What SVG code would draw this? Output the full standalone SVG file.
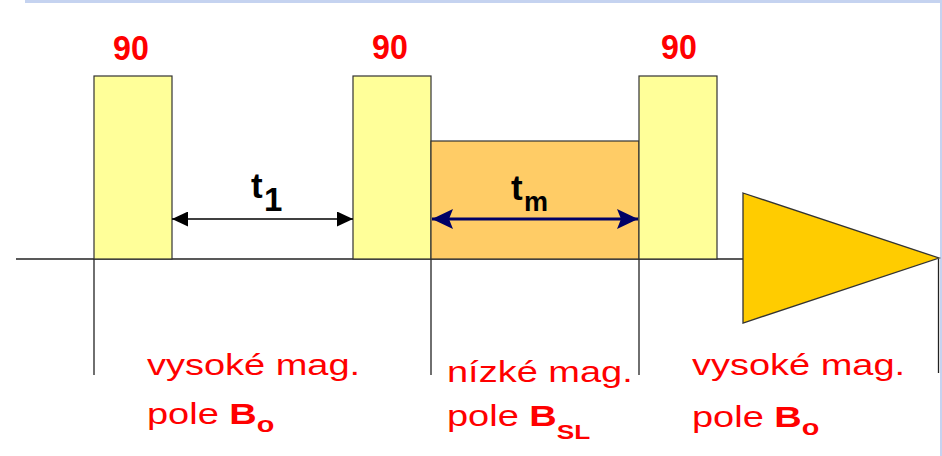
<svg xmlns="http://www.w3.org/2000/svg" width="942" height="456" viewBox="0 0 942 456">
<style>
.ln{stroke:#222;stroke-width:1.3;fill:none}
.pulse{fill:#ffff99;stroke:#333;stroke-width:1.2}
.mix{fill:#ffcc66;stroke:#333;stroke-width:1.2}
.acq{fill:#ffcc00;stroke:#333;stroke-width:1.3}
.lbl{font-family:"Liberation Sans",Arial,sans-serif;font-weight:bold;font-size:35px;fill:#ff0000}
.tt{font-family:"Liberation Sans",Arial,sans-serif;font-weight:bold;fill:#000}
.red{font-family:"Liberation Sans",Arial,sans-serif;font-size:29px;fill:#ff0000}
.b{font-weight:bold}
</style>
<defs>
<marker id="ah" markerUnits="userSpaceOnUse" markerWidth="16" markerHeight="15" refX="16" refY="7.5" orient="auto-start-reverse">
<path d="M0,0 L16,7.5 L0,15 z" fill="#000"/>
</marker>
<marker id="ahn" markerUnits="userSpaceOnUse" markerWidth="22" markerHeight="21" refX="21" refY="10.5" orient="auto-start-reverse">
<path d="M0,0.5 L21,10.5 L0,20.5 L4,10.5 z" fill="#000066"/>
</marker>
</defs>
<rect x="25" y="0" width="917" height="3" fill="#c5d3f0"/>
<rect x="940" y="0" width="2" height="456" fill="#c5d3f0"/>

<g id="connectors">
<line class="ln" x1="16" y1="259" x2="743" y2="259"/>
<line class="ln" x1="94" y1="259" x2="94" y2="375"/>
<line class="ln" x1="431" y1="259" x2="431" y2="375"/>
<line class="ln" x1="639" y1="259" x2="639" y2="375"/>
<line class="ln" x1="938.5" y1="259" x2="938.5" y2="373"/>
</g>

<g id="pulse1">
<rect class="pulse" x="94" y="76" width="78" height="183"/>
<text class="lbl" transform="translate(131,60) scale(0.92,1)" text-anchor="middle">90</text>
</g>
<g id="pulse2">
<rect class="pulse" x="353" y="76" width="78" height="183"/>
<text class="lbl" transform="translate(390,59) scale(0.92,1)" text-anchor="middle">90</text>
</g>
<g id="mixing">
<rect class="mix" x="431" y="141" width="208" height="118"/>
</g>
<g id="pulse3">
<rect class="pulse" x="639" y="76" width="78" height="183"/>
<text class="lbl" transform="translate(679,59) scale(0.92,1)" text-anchor="middle">90</text>
</g>
<g id="acquisition">
<polygon class="acq" points="743,193 939,258 743,323"/>
</g>

<g id="arrows">
<line x1="172" y1="219" x2="353" y2="219" stroke="#000" stroke-width="1.5" marker-start="url(#ah)" marker-end="url(#ah)"/>
<line x1="432" y1="219" x2="638" y2="219" stroke="#000066" stroke-width="3" marker-start="url(#ahn)" marker-end="url(#ahn)"/>
</g>

<g id="t1">
<text class="tt"><tspan x="251" y="198" font-size="35">t</tspan><tspan x="264" y="211" font-size="33">1</tspan></text>
</g>
<g id="tm">
<text class="tt"><tspan x="511" y="200" font-size="35">t</tspan><tspan x="524" y="211" font-size="27">m</tspan></text>
</g>

<g id="label-left">
<text class="red" transform="translate(147,375) scale(1.31,1)">vysoké mag.</text>
<text class="red" transform="translate(147,424) scale(1.31,1)">pole <tspan class="b">B</tspan><tspan class="b" font-size="22" dy="8">o</tspan></text>
</g>
<g id="label-mid">
<text class="red" transform="translate(447,382) scale(1.31,1)">nízké mag.</text>
<text class="red" transform="translate(447,426) scale(1.31,1)">pole <tspan class="b">B</tspan><tspan class="b" font-size="20" dy="13">SL</tspan></text>
</g>
<g id="label-right">
<text class="red" transform="translate(692,375) scale(1.31,1)">vysoké mag.</text>
<text class="red" transform="translate(692,427) scale(1.31,1)">pole <tspan class="b">B</tspan><tspan class="b" font-size="22" dy="8">o</tspan></text>
</g>
</svg>
